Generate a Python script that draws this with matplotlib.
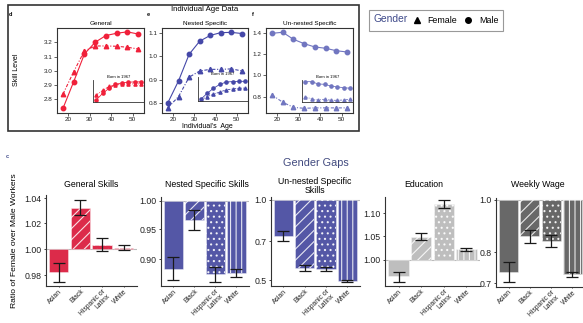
import matplotlib
matplotlib.use('Agg')
import matplotlib.pyplot as plt
import numpy as np
from matplotlib.patches import Rectangle
from matplotlib.lines import Line2D
from matplotlib.ticker import NullLocator
import matplotlib.transforms as mtransforms

plt.rcParams['font.family'] = ['Liberation Sans', 'DejaVu Sans']
plt.rcParams['hatch.linewidth'] = 0.8

# ---------------- data: age profiles ----------------
ages = [17.5, 22.5, 27.5, 32.5, 37.5, 42.5, 47.5, 52.5]
gen_male = [2.737, 2.924, 3.118, 3.200, 3.247, 3.263, 3.273, 3.258]
gen_female = [2.837, 2.994, 3.139, 3.174, 3.174, 3.172, 3.165, 3.153]
nest_male = [0.800, 0.894, 1.009, 1.066, 1.091, 1.103, 1.104, 1.099]
nest_female = [0.778, 0.826, 0.910, 0.937, 0.944, 0.944, 0.946, 0.937]
unn_male = [1.394, 1.404, 1.338, 1.297, 1.266, 1.254, 1.231, 1.219]
unn_female = [0.816, 0.748, 0.700, 0.691, 0.695, 0.695, 0.695, 0.695]

# born in 1967 cohort (insets)
ages_1967 = [33, 36, 39, 42, 45, 48, 51, 54]
gen_male_67 = [2.795, 2.842, 2.877, 2.905, 2.915, 2.920, 2.922, 2.922]
gen_female_67 = [2.830, 2.862, 2.890, 2.900, 2.905, 2.908, 2.908, 2.908]
nest_male_67 = [0.814, 0.840, 0.862, 0.879, 0.889, 0.891, 0.892, 0.892]
nest_female_67 = [0.811, 0.826, 0.836, 0.846, 0.855, 0.859, 0.862, 0.863]
unn_male_67 = [0.941, 0.941, 0.919, 0.916, 0.900, 0.891, 0.884, 0.879]
unn_female_67 = [0.800, 0.778, 0.769, 0.776, 0.766, 0.766, 0.769, 0.776]

# ---------------- data: gender gaps ----------------
cats = ['Asian', 'Black', 'Hispanic or\nLatinx', 'White']
gen_val = [0.9826, 1.0325, 1.0030, 1.0010]
gen_lo = [0.9750, 1.0263, 0.9985, 0.9990]
gen_hi = [0.9890, 1.0385, 1.0083, 1.0028]
nes_val = [0.885, 0.966, 0.876, 0.8775]
nes_lo = [0.8672, 0.9487, 0.8636, 0.8721]
nes_hi = [0.9043, 0.9834, 0.8882, 0.8839]
unn_val = [0.734, 0.553, 0.5485, 0.4957]
unn_lo = [0.701, 0.541, 0.539, 0.491]
unn_hi = [0.767, 0.569, 0.558, 0.500]
edu_val = [0.968, 1.0474, 1.120, 1.022]
edu_lo = [0.9567, 1.0417, 1.111, 1.0192]
edu_hi = [0.9765, 1.056, 1.130, 1.0248]
wag_val = [0.736, 0.857, 0.840, 0.727]
wag_lo = [0.705, 0.831, 0.819, 0.718]
wag_hi = [0.768, 0.880, 0.861, 0.734]

W, H = 583, 323
fig = plt.figure(figsize=(W / 100, H / 100), dpi=100)


def rect(x0, y0, x1, y1):
    return [x0 / W, 1 - y1 / H, (x1 - x0) / W, (y1 - y0) / H]


def ftext(x, y, s, **kw):
    return fig.text(x / W, 1 - y / H, s, **kw)


DARK = '#333333'

# ---------------- top: age profile panels ----------------
def age_panel(r, title, male, female, color, yticks, ylim, ib, m67, f67):
    ax = fig.add_axes(rect(*r))
    ax.plot(ages, male, '-', color=color, lw=0.8, marker='o', ms=3.2, mec=color)
    ax.plot(ages, female, color=color, lw=0.8, ls=(0, (3, 1.5, 1, 1.5)),
            marker='^', ms=3.2, mec=color)
    ax.set_xlim(14.7, 55.3)
    ax.set_ylim(*ylim)
    ax.set_xticks([20, 30, 40, 50])
    ax.set_yticks(yticks)
    ax.tick_params(labelsize=4.6, length=2, width=0.5, pad=1.0, colors='#222222')
    for s in ax.spines.values():
        s.set_linewidth(0.8)
        s.set_color(DARK)
    ftext((r[0] + r[2]) / 2, 23.5, title, fontsize=4.6, ha='center', va='center')
    x0, x1, y0, y1 = ib
    ia = ax.inset_axes([x0, y0, x1 - x0, y1 - y0], transform=ax.transData)
    ia.set_xlim(x0, x1)
    ia.set_ylim(y0, y1)
    ia.plot(ages_1967, m67, '-', color=color, lw=0.6, marker='o', ms=2.3)
    ia.plot(ages_1967, f67, color=color, lw=0.6, ls=(0, (3, 1.5, 1, 1.5)),
            marker='^', ms=2.3)
    ia.patch.set_alpha(0)
    ia.set_xticks([])
    ia.set_yticks([])
    ia.spines['top'].set_visible(False)
    ia.spines['right'].set_visible(False)
    for k in ('left', 'bottom'):
        ia.spines[k].set_linewidth(0.6)
        ia.spines[k].set_color(DARK)
    ia.set_title('Born in 1967', fontsize=3.0, pad=1.5)
    return ax


age_panel((57, 28, 144, 113), 'General', gen_male, gen_female, '#F0203A',
          [2.8, 2.9, 3.0, 3.1, 3.2], (2.704, 3.30), (31.5, 55.3, 2.781, 2.935),
          gen_male_67, gen_female_67)
age_panel((162, 28, 248, 113), 'Nested Specific', nest_male, nest_female, '#4548A8',
          [0.8, 0.9, 1.0, 1.1], (0.755, 1.123), (31.6, 55.3, 0.807, 0.911),
          nest_male_67, nest_female_67)
age_panel((266, 28, 353, 113), 'Un-nested Specific', unn_male, unn_female, '#7176C0',
          [0.8, 1.0, 1.2, 1.4], (0.647, 1.444), (31.4, 55.3, 0.750, 0.957),
          unn_male_67, unn_female_67)

fig.patches.append(Rectangle((8 / W, 1 - 131 / H), (359 - 8) / W, (131 - 5) / H,
                             transform=fig.transFigure, fill=False, lw=1.2, ec=DARK))
ftext(205, 9.5, 'Individual Age Data', fontsize=5.6, ha='center', va='center')
ftext(207, 127, "Individual's  Age", fontsize=5.0, ha='center', va='center')
ftext(17, 70, 'Skill Level', fontsize=5.1, ha='center', va='center', rotation=90)
for lx, lab in [(10, 'd'), (148, 'e'), (253, 'f')]:
    ftext(lx, 15, lab, fontsize=4, fontweight='bold', ha='center', va='center')

# legend
fig.patches.append(Rectangle((369 / W, 1 - 31 / H), (503 - 369) / W, (31 - 10) / H,
                             transform=fig.transFigure, fill=False, lw=0.8, ec='#999999'))
ftext(374, 19.5, 'Gender', fontsize=7.4, color='#3F4A8A', ha='left', va='center')
fig.add_artist(Line2D([417 / W], [1 - 20 / H], marker='^', ms=4, color='black',
                      ls='none', transform=fig.transFigure))
ftext(427, 20.5, 'Female', fontsize=6.4, ha='left', va='center')
fig.add_artist(Line2D([468 / W], [1 - 20 / H], marker='o', ms=4, color='black',
                      ls='none', transform=fig.transFigure))
ftext(479, 20.5, 'Male', fontsize=6.4, ha='left', va='center')

# ---------------- bottom: gender gap bars ----------------
hatches = ['', '///', '...', '|||']


def gap_panel(r, title, tx, vals, lo, hi, color, ylim, yticks, ylabels):
    ax = fig.add_axes(rect(*r))
    ax.set_yscale('log')
    x = np.arange(len(cats))
    vals = np.array(vals)
    ax.axhline(1.0, color='#BBBBBB', lw=0.8, zorder=0.5)
    for i in range(len(cats)):
        ax.bar(x[i], vals[i] - 1, bottom=1, width=0.9, color=color,
               edgecolor=(1, 1, 1, 0.45), lw=0.6, zorder=1)
        if hatches[i]:
            ax.bar(x[i], vals[i] - 1, bottom=1, width=0.9, facecolor='none',
                   edgecolor=(1, 1, 1, 0.85), lw=0, hatch=hatches[i], zorder=1.5)
    ax.errorbar(x, vals, yerr=[vals - np.array(lo), np.array(hi) - vals], fmt='none',
                ecolor='#1a1a1a', elinewidth=0.9, capsize=4, capthick=0.9, zorder=5)
    ax.set_xlim(-0.6, 3.6)
    ax.set_ylim(*ylim)
    ax.yaxis.set_minor_locator(NullLocator())
    ax.set_yticks(yticks)
    ax.set_yticklabels(ylabels)
    ax.set_xticks(x)
    ax.set_xticklabels(cats, rotation=45, ha='right', va='top',
                       rotation_mode='anchor', fontsize=4.9, linespacing=0.95)
    off = mtransforms.ScaledTranslation(3 / 100, 0, fig.dpi_scale_trans)
    for lab in ax.get_xticklabels():
        lab.set_transform(lab.get_transform() + off)
    ax.tick_params(axis='y', labelsize=6.3, length=1.8, width=0.6, pad=1.2,
                   colors='#222222')
    ax.tick_params(axis='x', length=1.0, width=0.6, pad=0.5, colors='#222222')
    ax.spines['top'].set_visible(False)
    ax.spines['right'].set_visible(False)
    for k in ('left', 'bottom'):
        ax.spines[k].set_linewidth(0.8)
        ax.spines[k].set_color(DARK)
    ftext(tx[0], tx[1], title, fontsize=6.3, ha='center', va='center',
          linespacing=1.05)
    return ax


gap_panel((45.7, 195, 136.7, 286), 'General Skills', (90.7, 185),
          gen_val, gen_lo, gen_hi, '#DC2B4A', (0.9718, 1.0427),
          [0.98, 1.00, 1.02, 1.04], ['0.98', '1.00', '1.02', '1.04'])
gap_panel((160.7, 196.7, 249, 286), 'Nested Specific Skills', (206.7, 185),
          nes_val, nes_lo, nes_hi, '#5457A6', (0.858, 1.0072),
          [0.90, 0.95, 1.00], ['0.90', '0.95', '1.00'])
gap_panel((270.7, 197.3, 360, 286), 'Un-nested Specific\nSkills', (315, 186),
          unn_val, unn_lo, unn_hi, '#5457A6', (0.4747, 1.023),
          [0.5, 0.7, 1.0], ['0.5', '0.7', '1.0'])
gap_panel((385, 197.3, 480, 286), 'Education', (423.3, 185),
          edu_val, edu_lo, edu_hi, '#BEBEBE', (0.948, 1.1366),
          [1.00, 1.05, 1.10], ['1.00', '1.05', '1.10'])
gap_panel((496, 198.3, 585, 286.7), 'Weekly Wage', (538.3, 185),
          wag_val, wag_lo, wag_hi, '#686868', (0.690, 1.007),
          [0.7, 0.8, 1.0], ['0.7', '0.8', '1.0'])

ftext(316, 163, 'Gender Gaps', fontsize=7.8, color='#414A7F', ha='center', va='center')
ftext(15, 241, 'Ratio of Female over Male Workers', fontsize=6.1, ha='center',
      va='center', rotation=90)
ftext(7, 156, 'c', fontsize=4, fontweight='bold', color='#3F4A8A', ha='center', va='center')

fig.savefig('out.png', dpi=100)
